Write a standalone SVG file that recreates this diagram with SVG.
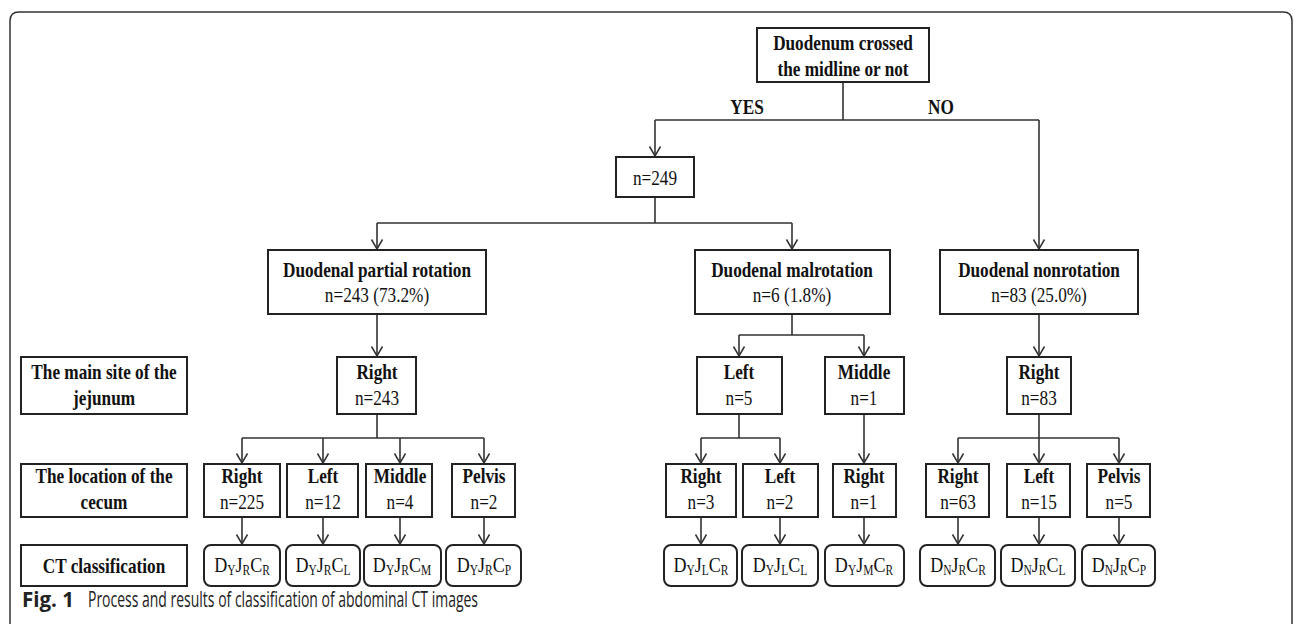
<svg xmlns="http://www.w3.org/2000/svg" width="1295" height="624" viewBox="0 0 1295 624">
<style>
.bx{fill:#fff;stroke:#222;stroke-width:2}
.rb{fill:#fff;stroke:#222;stroke-width:2}
.cn{fill:none;stroke:#333;stroke-width:1.6}
.b{font-family:"Liberation Serif","Times New Roman",serif;font-weight:bold;font-size:21px;fill:#111;text-anchor:middle}
.r{font-family:"Liberation Serif","Times New Roman",serif;font-size:21px;fill:#111;text-anchor:middle}
.s{font-family:"Liberation Serif","Times New Roman",serif;font-size:22px;fill:#111;text-anchor:middle}
.sub{font-size:14px}
.cap{font-family:"Open Sans","Noto Sans",sans-serif;font-size:21px;fill:#222}
</style>
<defs>
<marker id="ar" viewBox="-11 -7 13 14" refX="0" refY="0" markerWidth="13" markerHeight="14" markerUnits="userSpaceOnUse" orient="auto">
<path d="M-9.5,-5.5 L0,0 L-9.5,5.5" fill="none" stroke="#333" stroke-width="1.5"/>
</marker>
</defs>
<rect width="1295" height="624" fill="#fff"/>
<path d="M10,626 V21 Q10,12 19,12 H1283 Q1292,12 1292,21 V626" fill="none" stroke="#333" stroke-width="1.5"/>

<g id="connectors" class="cn">
<path d="M843,82 V120 M655,120 H1039"/>
<path d="M655,120 V156" marker-end="url(#ar)"/>
<path d="M1039,120 V249" marker-end="url(#ar)"/>
<path d="M655,197 V223 M377,223 H792"/>
<path d="M377,223 V249" marker-end="url(#ar)"/>
<path d="M792,223 V249" marker-end="url(#ar)"/>
<path d="M377,314 V356" marker-end="url(#ar)"/>
<path d="M792,314 V335 M739,335 H864"/>
<path d="M739,335 V356" marker-end="url(#ar)"/>
<path d="M864,335 V356" marker-end="url(#ar)"/>
<path d="M1039,314 V356" marker-end="url(#ar)"/>
<path d="M377,414 V438 M242,438 H484"/>
<path d="M242,438 V463" marker-end="url(#ar)"/>
<path d="M323,438 V463" marker-end="url(#ar)"/>
<path d="M400,438 V463" marker-end="url(#ar)"/>
<path d="M484,438 V463" marker-end="url(#ar)"/>
<path d="M739,414 V438 M701,438 H780"/>
<path d="M701,438 V463" marker-end="url(#ar)"/>
<path d="M780,438 V463" marker-end="url(#ar)"/>
<path d="M864,414 V463" marker-end="url(#ar)"/>
<path d="M1039,414 V438 M958,438 H1119"/>
<path d="M958,438 V463" marker-end="url(#ar)"/>
<path d="M1039,438 V463" marker-end="url(#ar)"/>
<path d="M1119,438 V463" marker-end="url(#ar)"/>
<path d="M242,517 V544" marker-end="url(#ar)"/>
<path d="M323,517 V544" marker-end="url(#ar)"/>
<path d="M400,517 V544" marker-end="url(#ar)"/>
<path d="M484,517 V544" marker-end="url(#ar)"/>
<path d="M701,517 V544" marker-end="url(#ar)"/>
<path d="M780,517 V544" marker-end="url(#ar)"/>
<path d="M864,517 V544" marker-end="url(#ar)"/>
<path d="M958,517 V544" marker-end="url(#ar)"/>
<path d="M1039,517 V544" marker-end="url(#ar)"/>
<path d="M1119,517 V544" marker-end="url(#ar)"/>
</g>

<g id="edge-labels">
<text class="b" transform="translate(747,114) scale(0.82,1)">YES</text>
<text class="b" transform="translate(941,114) scale(0.82,1)">NO</text>
</g>

<g id="root"><rect class="bx" x="757" y="28" width="172" height="54"/>
<text class="b" transform="translate(843,50) scale(0.82,1)">Duodenum crossed</text>
<text class="b" transform="translate(843,76) scale(0.82,1)">the midline or not</text></g>

<g id="n249"><rect class="bx" x="616" y="157" width="78" height="40"/>
<text class="r" transform="translate(655,185) scale(0.82,1)">n=249</text></g>

<g id="partial"><rect class="bx" x="268" y="250" width="218" height="64"/>
<text class="b" transform="translate(377,277) scale(0.82,1)">Duodenal partial rotation</text>
<text class="r" transform="translate(377,302) scale(0.82,1)">n=243 (73.2%)</text></g>

<g id="malrot"><rect class="bx" x="695" y="250" width="195" height="64"/>
<text class="b" transform="translate(792,277) scale(0.82,1)">Duodenal malrotation</text>
<text class="r" transform="translate(792,302) scale(0.82,1)">n=6 (1.8%)</text></g>

<g id="nonrot"><rect class="bx" x="940" y="250" width="198" height="64"/>
<text class="b" transform="translate(1039,277) scale(0.82,1)">Duodenal nonrotation</text>
<text class="r" transform="translate(1039,302) scale(0.82,1)">n=83 (25.0%)</text></g>

<g id="label-jejunum"><rect class="bx" x="21" y="357" width="166" height="57"/>
<text class="b" transform="translate(104,379) scale(0.82,1)">The main site of the</text>
<text class="b" transform="translate(104,405) scale(0.82,1)">jejunum</text></g>

<g id="j-right-243"><rect class="bx" x="337" y="357" width="79" height="57"/>
<text class="b" transform="translate(377,379) scale(0.82,1)">Right</text>
<text class="r" transform="translate(377,405) scale(0.82,1)">n=243</text></g>

<g id="j-left-5"><rect class="bx" x="697" y="357" width="85" height="57"/>
<text class="b" transform="translate(739,379) scale(0.82,1)">Left</text>
<text class="r" transform="translate(739,405) scale(0.82,1)">n=5</text></g>

<g id="j-middle-1"><rect class="bx" x="825" y="357" width="79" height="57"/>
<text class="b" transform="translate(864,379) scale(0.82,1)">Middle</text>
<text class="r" transform="translate(864,405) scale(0.82,1)">n=1</text></g>

<g id="j-right-83"><rect class="bx" x="1007" y="357" width="64" height="57"/>
<text class="b" transform="translate(1039,379) scale(0.82,1)">Right</text>
<text class="r" transform="translate(1039,405) scale(0.82,1)">n=83</text></g>

<g id="label-cecum"><rect class="bx" x="21" y="464" width="166" height="53"/>
<text class="b" transform="translate(104,483) scale(0.82,1)">The location of the</text>
<text class="b" transform="translate(104,509) scale(0.82,1)">cecum</text></g>

<g id="c-right-225"><rect class="bx" x="204" y="464" width="76" height="53"/>
<text class="b" transform="translate(242,483) scale(0.82,1)">Right</text>
<text class="r" transform="translate(242,509) scale(0.82,1)">n=225</text></g>

<g id="c-left-12"><rect class="bx" x="287" y="464" width="71" height="53"/>
<text class="b" transform="translate(323,483) scale(0.82,1)">Left</text>
<text class="r" transform="translate(323,509) scale(0.82,1)">n=12</text></g>

<g id="c-middle-4"><rect class="bx" x="366" y="464" width="66" height="53"/>
<text class="b" transform="translate(400,483) scale(0.82,1)">Middle</text>
<text class="r" transform="translate(400,509) scale(0.82,1)">n=4</text></g>

<g id="c-pelvis-2"><rect class="bx" x="452" y="464" width="63" height="53"/>
<text class="b" transform="translate(484,483) scale(0.82,1)">Pelvis</text>
<text class="r" transform="translate(484,509) scale(0.82,1)">n=2</text></g>

<g id="c-right-3"><rect class="bx" x="666" y="464" width="70" height="53"/>
<text class="b" transform="translate(701,483) scale(0.82,1)">Right</text>
<text class="r" transform="translate(701,509) scale(0.82,1)">n=3</text></g>

<g id="c-left-2"><rect class="bx" x="743" y="464" width="75" height="53"/>
<text class="b" transform="translate(780,483) scale(0.82,1)">Left</text>
<text class="r" transform="translate(780,509) scale(0.82,1)">n=2</text></g>

<g id="c-right-1"><rect class="bx" x="833" y="464" width="63" height="53"/>
<text class="b" transform="translate(864,483) scale(0.82,1)">Right</text>
<text class="r" transform="translate(864,509) scale(0.82,1)">n=1</text></g>

<g id="c-right-63"><rect class="bx" x="926" y="464" width="63" height="53"/>
<text class="b" transform="translate(958,483) scale(0.82,1)">Right</text>
<text class="r" transform="translate(958,509) scale(0.82,1)">n=63</text></g>

<g id="c-left-15"><rect class="bx" x="1007" y="464" width="63" height="53"/>
<text class="b" transform="translate(1039,483) scale(0.82,1)">Left</text>
<text class="r" transform="translate(1039,509) scale(0.82,1)">n=15</text></g>

<g id="c-pelvis-5"><rect class="bx" x="1087" y="464" width="63" height="53"/>
<text class="b" transform="translate(1119,483) scale(0.82,1)">Pelvis</text>
<text class="r" transform="translate(1119,509) scale(0.82,1)">n=5</text></g>

<g id="label-ct"><rect class="bx" x="21" y="545" width="166" height="41"/>
<text class="b" transform="translate(104,573) scale(0.82,1)">CT classification</text></g>

<g id="ct-1"><rect class="rb" x="204" y="545" width="76" height="41" rx="7"/>
<text class="s" transform="translate(242,572) scale(0.82,1)">D<tspan class="sub" dy="3">Y</tspan><tspan dy="-3">J</tspan><tspan class="sub" dy="3">R</tspan><tspan dy="-3">C</tspan><tspan class="sub" dy="3">R</tspan></text></g>
<g id="ct-2"><rect class="rb" x="286" y="545" width="74" height="41" rx="7"/>
<text class="s" transform="translate(323,572) scale(0.82,1)">D<tspan class="sub" dy="3">Y</tspan><tspan dy="-3">J</tspan><tspan class="sub" dy="3">R</tspan><tspan dy="-3">C</tspan><tspan class="sub" dy="3">L</tspan></text></g>
<g id="ct-3"><rect class="rb" x="364" y="545" width="77" height="41" rx="7"/>
<text class="s" transform="translate(402,572) scale(0.82,1)">D<tspan class="sub" dy="3">Y</tspan><tspan dy="-3">J</tspan><tspan class="sub" dy="3">R</tspan><tspan dy="-3">C</tspan><tspan class="sub" dy="3">M</tspan></text></g>
<g id="ct-4"><rect class="rb" x="446" y="545" width="75" height="41" rx="7"/>
<text class="s" transform="translate(484,572) scale(0.82,1)">D<tspan class="sub" dy="3">Y</tspan><tspan dy="-3">J</tspan><tspan class="sub" dy="3">R</tspan><tspan dy="-3">C</tspan><tspan class="sub" dy="3">P</tspan></text></g>
<g id="ct-5"><rect class="rb" x="664" y="545" width="73" height="41" rx="7"/>
<text class="s" transform="translate(701,572) scale(0.82,1)">D<tspan class="sub" dy="3">Y</tspan><tspan dy="-3">J</tspan><tspan class="sub" dy="3">L</tspan><tspan dy="-3">C</tspan><tspan class="sub" dy="3">R</tspan></text></g>
<g id="ct-6"><rect class="rb" x="742" y="545" width="76" height="41" rx="7"/>
<text class="s" transform="translate(780,572) scale(0.82,1)">D<tspan class="sub" dy="3">Y</tspan><tspan dy="-3">J</tspan><tspan class="sub" dy="3">L</tspan><tspan dy="-3">C</tspan><tspan class="sub" dy="3">L</tspan></text></g>
<g id="ct-7"><rect class="rb" x="825" y="545" width="79" height="41" rx="7"/>
<text class="s" transform="translate(864,572) scale(0.82,1)">D<tspan class="sub" dy="3">Y</tspan><tspan dy="-3">J</tspan><tspan class="sub" dy="3">M</tspan><tspan dy="-3">C</tspan><tspan class="sub" dy="3">R</tspan></text></g>
<g id="ct-8"><rect class="rb" x="920" y="545" width="75" height="41" rx="7"/>
<text class="s" transform="translate(958,572) scale(0.82,1)">D<tspan class="sub" dy="3">N</tspan><tspan dy="-3">J</tspan><tspan class="sub" dy="3">R</tspan><tspan dy="-3">C</tspan><tspan class="sub" dy="3">R</tspan></text></g>
<g id="ct-9"><rect class="rb" x="1001" y="545" width="74" height="41" rx="7"/>
<text class="s" transform="translate(1038,572) scale(0.82,1)">D<tspan class="sub" dy="3">N</tspan><tspan dy="-3">J</tspan><tspan class="sub" dy="3">R</tspan><tspan dy="-3">C</tspan><tspan class="sub" dy="3">L</tspan></text></g>
<g id="ct-10"><rect class="rb" x="1082" y="545" width="73" height="41" rx="7"/>
<text class="s" transform="translate(1119,572) scale(0.82,1)">D<tspan class="sub" dy="3">N</tspan><tspan dy="-3">J</tspan><tspan class="sub" dy="3">R</tspan><tspan dy="-3">C</tspan><tspan class="sub" dy="3">P</tspan></text></g>

<g id="caption">
<text class="cap" x="22" y="607" font-weight="bold" textLength="52" lengthAdjust="spacingAndGlyphs">Fig. 1</text>
<text class="cap" x="88" y="607" textLength="390" lengthAdjust="spacingAndGlyphs">Process and results of classification of abdominal CT images</text>
</g>
</svg>
